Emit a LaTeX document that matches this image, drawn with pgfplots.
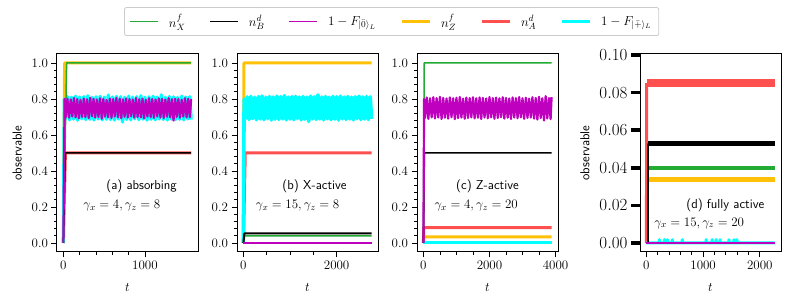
\RequirePackage{fix-cm}
\documentclass[border=0pt]{standalone}
\usepackage{pgfplots}
\pgfplotsset{compat=1.18}
\definecolor{cgr}{RGB}{34,170,51}
\definecolor{cor}{RGB}{255,193,7}
\definecolor{crd}{RGB}{255,80,80}
\definecolor{ccy}{RGB}{0,255,255}
\definecolor{cmg}{RGB}{191,0,191}
\tikzset{
  lthin/.style={line width=1.5pt},lthick/.style={line width=3pt},
  anno/.style={font=\sffamily\fontsize{13}{15}\selectfont},
  gam/.style={font=\fontsize{13}{15}\selectfont},
}
\begin{document}
\begin{tikzpicture}
\useasboundingbox (0,0) rectangle (793pt,304pt);
\pgfplotsset{
  base/.style={width=141pt,height=198pt,scale only axis,anchor=south west,
    axis line style={line width=1pt},tick align=outside,xtick pos=left,ytick pos=left,
    major tick length=5.5pt,minor tick length=3pt,
    every tick/.style={black,line width=0.8pt},
    tick label style={font=\fontsize{13}{15}\selectfont},
    xticklabel style={/pgf/number format/1000 sep={}},
    scaled ticks=false,
    every axis plot/.append style={line join=round},
    xlabel={$t$},xlabel style={font=\fontsize{13}{15}\selectfont,at={(axis description cs:0.5,-0.177)},anchor=center},
  },
  unit/.style={ymin=-0.05,ymax=1.05,ytick={0,0.2,0.4,0.6,0.8,1.0},minor y tick num=4,
    yticklabel style={/pgf/number format/.cd,fixed,fixed zerofill,precision=1}},
}
% (a)
\begin{axis}[base,unit,at={(57pt,52pt)},xmin=-78,xmax=1650,xtick={0,1000},minor x tick num=4,
  ylabel={observable},ylabel style={font=\sffamily\fontsize{13}{15}\selectfont,at={(axis description cs:-0.282,0.5)},anchor=center},
  legend columns=6,
  legend style={at={(2.373,1.091)},anchor=south,draw=black!20,rounded corners=2pt,line width=0.8pt,
    font=\fontsize{13}{15}\selectfont,
    /tikz/every even column/.append style={column sep=22pt},inner xsep=5pt,inner ysep=5pt},
  legend image code/.code={\draw[#1] (0pt,0pt) -- (28pt,0pt);},
]
\addlegendimage{cgr,lthin}\addlegendentry{\hspace*{8pt}$n_X^f$}
\addlegendimage{black,lthin}\addlegendentry{\hspace*{8pt}$n_B^d$}
\addlegendimage{cmg,lthin}\addlegendentry{\hspace*{8pt}$1-F_{|\bar{0}\rangle_L}$}
\addlegendimage{cor,lthick}\addlegendentry{\hspace*{8pt}$n_Z^f$}
\addlegendimage{crd,lthick}\addlegendentry{\hspace*{8pt}$n_A^d$}
\addlegendimage{ccy,lthick}\addlegendentry{\hspace*{8pt}$1-F_{|\bar{+}\rangle_L}$}
\addplot[cor,lthick,forget plot] coordinates {(0,0)(15,1)(1566,1)};
\addplot[crd,lthick,forget plot] coordinates {(0,0)(25,0.5)(1566,0.5)};
\addplot[ccy,line width=3.3pt,forget plot] coordinates {(0,0)(12,0.80)(25,.690)(50,.814)(75,.684)(100,.810)(125,.688)(150,.816)(175,.682)(200,.811)(225,.690)(250,.813)(275,.685)(300,.818)(325,.687)(350,.809)(375,.683)(400,.812)(425,.689)(450,.815)(475,.684)(500,.810)(525,.688)(550,.822)(575,.686)(600,.811)(625,.683)(650,.814)(675,.689)(700,.812)(725,.672)(750,.809)(775,.687)(800,.816)(825,.684)(850,.811)(875,.690)(900,.813)(925,.685)(950,.818)(975,.688)(1000,.810)(1025,.682)(1050,.812)(1075,.687)(1100,.815)(1125,.684)(1150,.811)(1175,.689)(1200,.823)(1225,.686)(1250,.810)(1275,.683)(1300,.814)(1325,.688)(1350,.812)(1375,.685)(1400,.809)(1425,.687)(1450,.816)(1475,.684)(1500,.811)(1525,.689)(1550,.813)(1566,.686)};
\addplot[cgr,lthin,forget plot] coordinates {(0,0)(40,1)(1566,1)};
\addplot[black,lthin,forget plot] coordinates {(0,0)(25,0.5)(1566,0.5)};
\addplot[cmg,line width=2.2pt,forget plot] coordinates {(0,0)(15,0.80)(30,.700)(50,.802)(70,.696)(90,.798)(110,.703)(130,.805)(150,.698)(170,.800)(190,.692)(210,.796)(230,.701)(250,.803)(270,.699)(290,.799)(310,.694)(330,.807)(350,.704)(370,.801)(390,.697)(410,.797)(430,.700)(450,.804)(470,.690)(490,.800)(510,.702)(530,.795)(550,.698)(570,.802)(590,.695)(610,.799)(630,.703)(650,.806)(670,.699)(690,.801)(710,.693)(730,.798)(750,.701)(770,.803)(790,.697)(810,.800)(830,.704)(850,.797)(870,.696)(890,.805)(910,.700)(930,.799)(950,.698)(970,.802)(990,.692)(1010,.796)(1030,.702)(1050,.804)(1070,.699)(1090,.800)(1110,.695)(1130,.798)(1150,.703)(1170,.803)(1190,.697)(1210,.801)(1230,.694)(1250,.797)(1270,.701)(1290,.805)(1310,.698)(1330,.799)(1350,.680)(1370,.802)(1390,.700)(1410,.800)(1430,.696)(1450,.796)(1470,.702)(1490,.804)(1510,.698)(1530,.801)(1550,.699)(1566,.799)};
\node[anno] at (rel axis cs:0.6,0.333) {(a) absorbing};
\node[gam] at (rel axis cs:0.46,0.232) {$\gamma_x=4,\gamma_z=8$};
\end{axis}
% (b)
\begin{axis}[base,unit,at={(237pt,52pt)},xmin=-137.5,xmax=2887.5,xtick={0,2000},minor x tick num=3]
\addplot[cor,lthick] coordinates {(0,0)(10,1)(2750,1)};
\addplot[crd,lthick] coordinates {(0,0)(40,0.5)(2750,0.5)};
\addplot[ccy,line width=3.6pt] coordinates {(0,0)(15,0.80)(40,.690)(80,.812)(120,.686)(160,.815)(200,.692)(240,.809)(280,.684)(320,.813)(360,.689)(400,.817)(440,.685)(480,.810)(520,.691)(560,.814)(600,.683)(640,.811)(680,.688)(720,.816)(760,.686)(800,.812)(840,.690)(880,.819)(920,.684)(960,.810)(1000,.689)(1040,.813)(1080,.685)(1120,.815)(1160,.691)(1200,.811)(1240,.684)(1280,.814)(1320,.688)(1360,.810)(1400,.675)(1440,.816)(1480,.690)(1520,.812)(1560,.686)(1600,.823)(1640,.689)(1680,.811)(1720,.684)(1760,.814)(1800,.690)(1840,.810)(1880,.685)(1920,.815)(1960,.688)(2000,.812)(2040,.683)(2080,.816)(2120,.690)(2160,.811)(2200,.686)(2240,.814)(2280,.689)(2320,.810)(2360,.684)(2400,.813)(2440,.691)(2480,.816)(2520,.685)(2560,.811)(2600,.689)(2640,.814)(2680,.686)(2720,.812)(2750,.690)};
\addplot[cgr,lthin] coordinates {(0,0)(20,0.040)(2750,0.040)};
\addplot[black,line width=2pt] coordinates {(0,0)(20,0.053)(2750,0.053)};
\addplot[cmg,lthin] coordinates {(0,0)(2750,0)};
\node[anno] at (rel axis cs:0.55,0.333) {(b) X-active};
\node[gam] at (rel axis cs:0.43,0.232) {$\gamma_x=15,\gamma_z=8$};
\end{axis}
% (c)
\begin{axis}[base,unit,at={(417pt,52pt)},xmin=-194,xmax=4074,xtick={0,2000,4000},minor x tick num=3]
\addplot[cor,lthick] coordinates {(0,0)(10,0.034)(3880,0.034)};
\addplot[crd,lthick] coordinates {(0,0)(10,0.086)(3880,0.086)};
\addplot[ccy,lthick] coordinates {(0,0)(3880,0)};
\addplot[cgr,lthin] coordinates {(0,0)(25,1)(3880,1)};
\addplot[black,lthin] coordinates {(0,0)(30,0.5)(3880,0.5)};
\addplot[cmg,line width=2.2pt] coordinates {(0,0)(20,0.80)(50,.695)(100,.808)(150,.690)(200,.804)(250,.698)(300,.810)(350,.692)(400,.805)(450,.697)(500,.812)(550,.689)(600,.806)(650,.696)(700,.803)(750,.691)(800,.809)(850,.699)(900,.804)(950,.688)(1000,.807)(1050,.694)(1100,.811)(1150,.697)(1200,.802)(1250,.690)(1300,.808)(1350,.695)(1400,.805)(1450,.698)(1500,.810)(1550,.692)(1600,.804)(1650,.696)(1700,.809)(1750,.689)(1800,.806)(1850,.697)(1900,.803)(1950,.693)(2000,.811)(2050,.698)(2100,.805)(2150,.690)(2200,.808)(2250,.695)(2300,.804)(2350,.699)(2400,.810)(2450,.691)(2500,.806)(2550,.696)(2600,.803)(2650,.689)(2700,.809)(2750,.697)(2800,.805)(2850,.693)(2900,.811)(2950,.698)(3000,.804)(3050,.690)(3100,.807)(3150,.695)(3200,.802)(3250,.697)(3300,.810)(3350,.691)(3400,.806)(3450,.686)(3500,.812)(3550,.694)(3600,.804)(3650,.680)(3700,.816)(3750,.692)(3800,.805)(3850,.688)(3880,.810)};
\node[anno] at (rel axis cs:0.5,0.333) {(c) Z-active};
\node[gam] at (rel axis cs:0.42,0.232) {$\gamma_x=4,\gamma_z=20$};
\end{axis}
% (d)
\begin{axis}[base,at={(640pt,52pt)},xmin=-113,xmax=2373,ymin=-0.0048,ymax=0.1005,
  xtick={0,1000,2000},minor x tick num=4,
  ytick=\empty,
  minor ytick={0.005,0.01,0.015,0.025,0.03,0.035,0.045,0.05,0.055,0.065,0.07,0.075,0.085,0.09,0.095},
  extra y ticks={0,0.02,0.04,0.06,0.08,0.1},
  extra y tick style={major tick length=9pt,tick style={line width=3.5pt},
    yticklabel style={font=\fontsize{17}{19}\selectfont,/pgf/number format/.cd,fixed,fixed zerofill,precision=2}},
  ylabel={observable},ylabel style={font=\sffamily\fontsize{13}{15}\selectfont,at={(axis description cs:-0.39,0.5)},anchor=center},
]
\addplot[cor,line width=5pt] coordinates {(20,0.034)(2260,0.034)};
\addplot[crd,lthick] coordinates {(0,0)(5,0.085)};
\addplot[crd,line width=8pt] coordinates {(15,0.085)(2260,0.085)};
\addplot[ccy,lthick] coordinates {(0,0)(223,0)(228,0.0018)(233,0)(311,0)(316,0.0018)(321,0)(363,0)(368,0.0018)(373,0)(451,0)(456,0.0018)(461,0)(627,0)(632,0.0018)(637,0)(1048,0)(1053,0.0018)(1058,0)(1153,0)(1158,0.0018)(1163,0)(1223,0)(1228,0.0018)(1233,0)(1293,0)(1298,0.0018)(1303,0)(1451,0)(1456,0.0018)(1461,0)(1539,0)(1544,0.0018)(1549,0)(1591,0)(1596,0.0018)(1601,0)(2260,0)};
\addplot[cgr,line width=4pt] coordinates {(20,0.040)(2260,0.040)};
\addplot[black,lthin] coordinates {(30,0)(32,0.053)};
\addplot[black,line width=4.5pt] coordinates {(32,0.053)(2260,0.053)};
\addplot[cmg,lthin] coordinates {(0,0)(2260,0)};
\node[anno] at (rel axis cs:0.605,0.237) {(d) fully active};
\node[gam] at (rel axis cs:0.42,0.146) {$\gamma_x=15,\gamma_z=20$};
\end{axis}
\end{tikzpicture}
\end{document}
